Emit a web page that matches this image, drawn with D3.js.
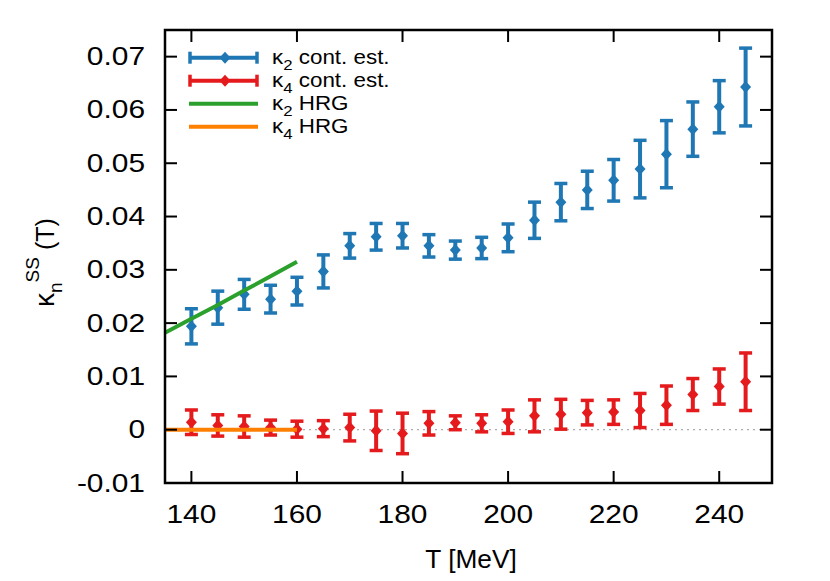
<!DOCTYPE html>
<html>
<head>
<meta charset="utf-8">
<script src="https://cdn.jsdelivr.net/npm/d3@7"></script>
<style>
  body { margin: 0; background: #fff; }
  text { font-family: "Liberation Sans", Arial, Helvetica, sans-serif; fill: #000; }
</style>
</head>
<body>
<script>
// temperatures [MeV]
var temps = [140, 145, 150, 155, 160, 165, 170, 175, 180, 185, 190, 195,
             200, 205, 210, 215, 220, 225, 230, 235, 240, 245];

// kappa_2 continuum estimate
var k2Val = [0.0194, 0.0229, 0.0254, 0.0245, 0.0260, 0.0297, 0.0345, 0.0362, 0.0364, 0.0345, 0.0337, 0.0341,
             0.0360, 0.0393, 0.0427, 0.0450, 0.0468, 0.0489, 0.0517, 0.0564, 0.0606, 0.0643];
var k2Err = [0.0033, 0.0031, 0.0028, 0.0026, 0.0026, 0.0031, 0.0023, 0.0025, 0.0023, 0.0021, 0.0017, 0.0020,
             0.0026, 0.0034, 0.0035, 0.0035, 0.0039, 0.0054, 0.0063, 0.0051, 0.0049, 0.0073];

// kappa_4 continuum estimate
var k4Val = [0.0014, 0.0008, 0.0006, 0.0004, 0.0001, 0.0002, 0.0004, -0.0002, -0.0007, 0.0012, 0.0013, 0.0012,
             0.0015, 0.0026, 0.0029, 0.0032, 0.0033, 0.0036, 0.0046, 0.0066, 0.0081, 0.0090];
var k4Err = [0.0023, 0.0020, 0.0020, 0.0014, 0.0015, 0.0015, 0.0025, 0.0037, 0.0038, 0.0022, 0.0013, 0.0016,
             0.0022, 0.0030, 0.0028, 0.0023, 0.0023, 0.0032, 0.0036, 0.0030, 0.0033, 0.0054];

// HRG curves
var hrgT  = [135, 140, 145, 150, 155, 160];
var hrgK2 = [0.0182, 0.0208, 0.0234, 0.0261, 0.0288, 0.0315];
var hrgK4 = [0, 0, 0, 0, 0, 0];

var xTicks = [140, 160, 180, 200, 220, 240];
var yTicks = [-0.01, 0, 0.01, 0.02, 0.03, 0.04, 0.05, 0.06, 0.07];
var yTickLabels = ["-0.01", "0", "0.01", "0.02", "0.03", "0.04", "0.05", "0.06", "0.07"];

var blue = "#1f77b4", red = "#e41a1c", green = "#2ca02c", orange = "#ff7f00";

var svgWidth = 830, svgHeight = 581;
var margin = { top: 30, right: 58, bottom: 98, left: 165 };
var width = svgWidth - margin.left - margin.right;
var height = svgHeight - margin.top - margin.bottom;

var svg = d3.select("body").append("svg")
  .attr("width", svgWidth)
  .attr("height", svgHeight);

var chart = svg.append("g")
  .attr("transform", `translate(${margin.left}, ${margin.top})`);

var x = d3.scaleLinear().domain([135, 250]).range([0, width]);
var y = d3.scaleLinear().domain([-0.01, 0.075]).range([height, 0]);

// zero line
chart.append("line")
  .attr("x1", 0).attr("x2", width)
  .attr("y1", y(0)).attr("y2", y(0))
  .attr("stroke", "#999").attr("stroke-width", 1)
  .attr("stroke-dasharray", "2,4");

var diamond = "M0,-6L5.5,0L0,6L-5.5,0Z";

// error bar series
function drawSeries(vals, errs, color) {
  var g = chart.append("g");
  var pts = temps.map(function (t, i) { return { t: t, v: vals[i], e: errs[i] }; });
  var cap = 6.5;
  g.selectAll(".bar").data(pts).enter().append("line")
    .attr("x1", d => x(d.t)).attr("x2", d => x(d.t))
    .attr("y1", d => y(d.v - d.e)).attr("y2", d => y(d.v + d.e))
    .attr("stroke", color).attr("stroke-width", 4);
  g.selectAll(".capT").data(pts).enter().append("line")
    .attr("x1", d => x(d.t) - cap).attr("x2", d => x(d.t) + cap)
    .attr("y1", d => y(d.v + d.e)).attr("y2", d => y(d.v + d.e))
    .attr("stroke", color).attr("stroke-width", 3.5);
  g.selectAll(".capB").data(pts).enter().append("line")
    .attr("x1", d => x(d.t) - cap).attr("x2", d => x(d.t) + cap)
    .attr("y1", d => y(d.v - d.e)).attr("y2", d => y(d.v - d.e))
    .attr("stroke", color).attr("stroke-width", 3.5);
  g.selectAll(".pt").data(pts).enter().append("path")
    .attr("d", diamond)
    .attr("transform", d => `translate(${x(d.t)},${y(d.v)})`)
    .attr("fill", color);
}
drawSeries(k2Val, k2Err, blue);
drawSeries(k4Val, k4Err, red);

var line = d3.line()
  .x(d => x(d[0]))
  .y(d => y(d[1]));

chart.append("path")
  .datum(hrgT.map((t, i) => [t, hrgK2[i]]))
  .attr("d", line)
  .attr("fill", "none").attr("stroke", green).attr("stroke-width", 4);

chart.append("path")
  .datum(hrgT.map((t, i) => [t, hrgK4[i]]))
  .attr("d", line)
  .attr("fill", "none").attr("stroke", orange).attr("stroke-width", 4);

// frame + ticks (inward, mirrored)
chart.append("rect")
  .attr("width", width).attr("height", height)
  .attr("fill", "none").attr("stroke", "#000").attr("stroke-width", 2.5);

var tickLen = 12;
var ticks = chart.append("g").attr("stroke", "#000").attr("stroke-width", 2);
xTicks.forEach(function (t) {
  ticks.append("line").attr("x1", x(t)).attr("x2", x(t)).attr("y1", height).attr("y2", height - tickLen);
  ticks.append("line").attr("x1", x(t)).attr("x2", x(t)).attr("y1", 0).attr("y2", tickLen);
});
yTicks.forEach(function (v) {
  ticks.append("line").attr("x1", 0).attr("x2", tickLen).attr("y1", y(v)).attr("y2", y(v));
  ticks.append("line").attr("x1", width).attr("x2", width - tickLen).attr("y1", y(v)).attr("y2", y(v));
});

// tick labels
var sx = 1.15;
chart.selectAll(".xl").data(xTicks).enter().append("text")
  .attr("transform", d => `translate(${x(d)},${height + 40}) scale(${sx},1)`)
  .attr("text-anchor", "middle")
  .style("font-size", "26px")
  .text(d => d);

chart.selectAll(".yl").data(yTicks).enter().append("text")
  .attr("transform", d => `translate(-20,${y(d) + 8.5}) scale(${sx},1)`)
  .attr("text-anchor", "end")
  .style("font-size", "26px")
  .text((d, i) => yTickLabels[i]);

// axis titles
svg.append("text")
  .attr("transform", `translate(471,568) scale(1.05,1)`)
  .attr("text-anchor", "middle")
  .style("font-size", "25px")
  .text("T [MeV]");

var yt = svg.append("text")
  .attr("transform", "translate(54,307) rotate(-90)")
  .style("font-size", "25px");
yt.append("tspan").style("font-size", "28px").text("κ");
yt.append("tspan").attr("dy", 8).style("font-size", "19px").text("n");
yt.append("tspan").attr("dy", -23).style("font-size", "19px").text("SS");
yt.append("tspan").attr("dy", 15).text(" (T)");

// legend
var legend = svg.append("g");
var legRows = [
  { sub: "2", txt: " cont. est.", color: blue, bars: true },
  { sub: "4", txt: " cont. est.", color: red, bars: true },
  { sub: "2", txt: " HRG", color: green, bars: false },
  { sub: "4", txt: " HRG", color: orange, bars: false }
];
legRows.forEach(function (r, i) {
  var cy = 57.7 + i * 23;
  var g = legend.append("g");
  g.append("line").attr("x1", 189).attr("x2", 258).attr("y1", cy).attr("y2", cy)
    .attr("stroke", r.color).attr("stroke-width", 4);
  if (r.bars) {
    g.append("line").attr("x1", 190).attr("x2", 190).attr("y1", cy - 6).attr("y2", cy + 6)
      .attr("stroke", r.color).attr("stroke-width", 3.5);
    g.append("line").attr("x1", 257).attr("x2", 257).attr("y1", cy - 6).attr("y2", cy + 6)
      .attr("stroke", r.color).attr("stroke-width", 3.5);
    g.append("path").attr("d", diamond)
      .attr("transform", `translate(225,${cy})`).attr("fill", r.color);
  }
  var t = g.append("text")
    .attr("transform", `translate(272,${cy + 6}) scale(1.12,1)`)
    .style("font-size", "20px");
  t.append("tspan").text("κ");
  t.append("tspan").attr("dy", 6).style("font-size", "15px").text(r.sub);
  t.append("tspan").attr("dy", -6).text(r.txt);
});
</script>
</body>
</html>
